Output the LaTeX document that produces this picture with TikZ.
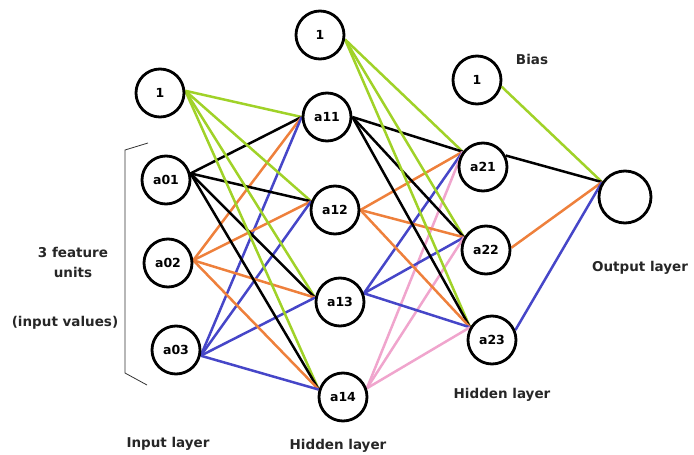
\documentclass[tikz,border=0pt]{standalone}
\usepackage{fontspec}
\setmainfont{DejaVu Sans}
\usetikzlibrary{backgrounds}
\definecolor{cgreen}{RGB}{160,210,40}
\definecolor{corange}{RGB}{238,128,60}
\definecolor{cblue}{RGB}{70,70,200}
\definecolor{cpink}{RGB}{240,165,205}
\tikzset{
  neuron/.style={circle,draw,line width=2.8pt,fill=white,minimum size=48pt,inner sep=0pt,font=\bfseries\fontsize{12.5}{14}\selectfont},
  lbl/.style={font=\bfseries\fontsize{13.5}{20}\selectfont,align=center,text=black!85},
  edge/.style={line width=2.5pt},
}
\begin{document}
\begin{tikzpicture}[x=1pt,y=-1pt]
\useasboundingbox (0,0) rectangle (694,455);
% nodes
\node[neuron] (b0) at (160,93) {1};
\node[neuron] (a01) at (166,180) {a01};
\node[neuron] (a02) at (168,263) {a02};
\node[neuron] (a03) at (176,350) {a03};
\node[neuron] (b1) at (320,35) {1};
\node[neuron] (a11) at (327,117) {a11};
\node[neuron] (a12) at (335,210) {a12};
\node[neuron] (a13) at (340,302) {a13};
\node[neuron] (a14) at (343,397) {a14};
\node[neuron] (b2) at (477,80) {1};
\node[neuron] (a21) at (483,167) {a21};
\node[neuron] (a22) at (486,250) {a22};
\node[neuron] (a23) at (492,340) {a23};
\node[neuron,minimum size=52pt] (out) at (625,197) {};
% labels
\node[lbl] (tbias) at (532,59) {Bias};
\node[lbl] (tout) at (640,268) {Output layer};
\node[lbl] (th2) at (502,395) {Hidden layer};
\node[lbl] (th1) at (338,446) {Hidden layer};
\node[lbl] (tin) at (168,444) {Input layer};
\node[lbl] (tf) at (73,262) {3 feature\\units};
\node[lbl] (tv) at (65,323) {(input values)};
% bracket
\coordinate (bt) at (148,143);
\coordinate (bt2) at (125,150);
\coordinate (bb2) at (125,373);
\coordinate (bb) at (147,385);
\draw[line width=0.8pt,black!80] (bt) -- (bt2) -- (bb2) -- (bb);
% edges
\begin{scope}[on background layer]
\foreach \t/\a in {a11/180,a12/160,a13/170,a14/163}{
  \draw[edge,cgreen] (b0.5) -- (\t.\a);
  \draw[edge,black] (a01.15) -- (\t.\a);
  \draw[edge,corange] (a02.6) -- (\t.\a);
  \draw[edge,cblue] (a03.-13) -- (\t.\a);
}
\foreach \t/\a in {a21/143,a22/150,a23/150}{
  \draw[edge,cgreen] (b1.-10) -- (\t.\a);
  \draw[edge,black] (a11.0) -- (\t.\a);
  \draw[edge,corange] (a12.0) -- (\t.\a);
  \draw[edge,cblue] (a13.20) -- (\t.\a);
  \draw[edge,cpink] (a14.20) -- (\t.\a);
}
\draw[edge,cgreen] (b2.-15) -- (out.147);
\draw[edge,black] (a21.27) -- (out.147);
\draw[edge,corange] (a22.5) -- (out.147);
\draw[edge,cblue] (a23.23) -- (out.147);
\end{scope}
\end{tikzpicture}
\end{document}
